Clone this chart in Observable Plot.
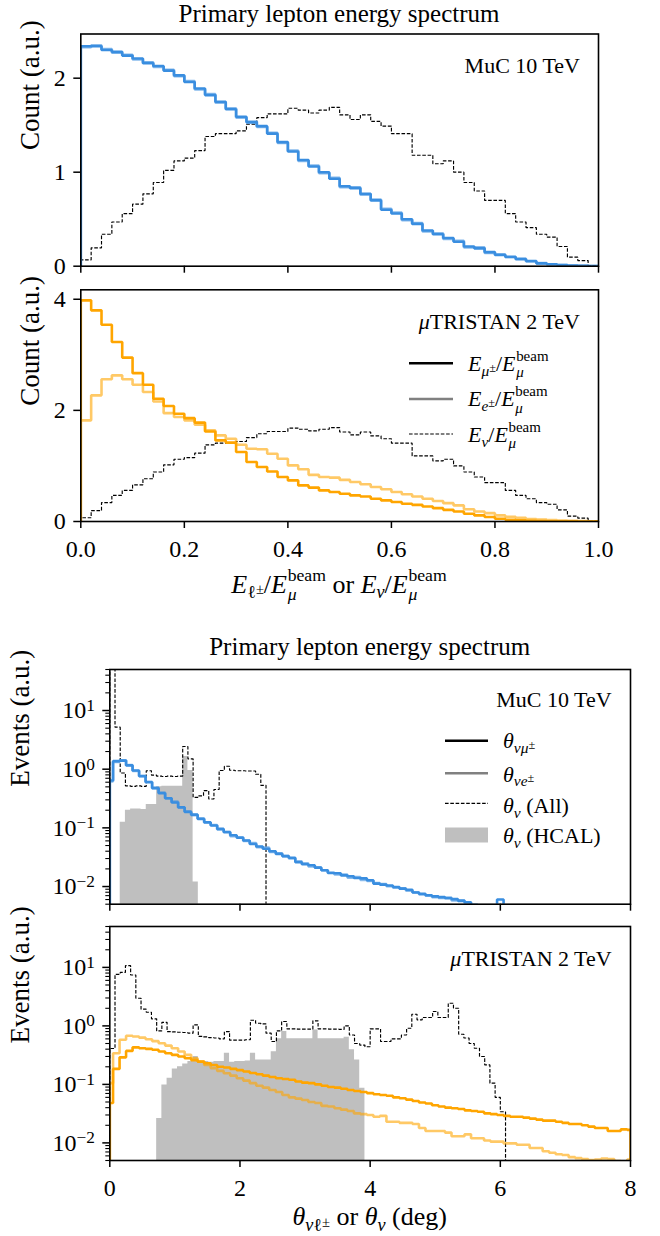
<!DOCTYPE html>
<html><head><meta charset="utf-8">
<script src="https://cdn.jsdelivr.net/npm/d3@7"></script>
<script src="https://cdn.jsdelivr.net/npm/@observablehq/plot@0.6"></script>
<style>
html,body{margin:0;padding:0;background:#fff;}
#root{position:relative;width:660px;height:1236px;overflow:hidden;font-family:"Liberation Serif","Times New Roman",serif;color:#000;background:#fff;}
.abs{position:absolute;left:0;top:0;white-space:nowrap;line-height:1.15;}
.ss{display:inline-block;vertical-align:-0.43em;font-size:0.68em;line-height:1.08;text-align:left;margin-left:0.04em;}
.ss>span{display:block;}
.sb{font-size:0.7em;vertical-align:-0.32em;}
.pm{font-size:0.8em;vertical-align:0.3em;font-style:normal;}
.bl{display:inline-block;width:0;height:0;vertical-align:baseline;}
</style></head>
<body><div id="root"></div>
<script>
// ------------------------------------------------------------------ data
// Energy spectra: 50 bins over E/E_beam in [0, 1]
const mucE_mu = [2.34,2.34,2.30,2.28,2.24,2.21,2.16,2.13,2.08,2.03,1.96,1.89,1.82,1.75,1.67,1.59,1.53,1.49,1.41,1.32,1.22,1.13,1.06,1.00,0.93,0.85,0.83,0.77,0.70,0.60,0.56,0.50,0.45,0.38,0.34,0.30,0.26,0.21,0.19,0.15,0.12,0.10,0.075,0.055,0.03,0.02,0.011,0.006,0.003,0.001];
const mucE_e  = [2.33,2.35,2.31,2.27,2.25,2.20,2.17,2.12,2.09,2.02,1.97,1.88,1.83,1.74,1.68,1.58,1.54,1.48,1.42,1.31,1.23,1.12,1.07,0.99,0.94,0.84,0.84,0.76,0.71,0.61,0.57,0.49,0.46,0.37,0.35,0.29,0.27,0.20,0.20,0.14,0.125,0.095,0.08,0.05,0.033,0.018,0.012,0.005,0.003,0.001];
const nuE     = [0.067,0.195,0.34,0.47,0.56,0.66,0.77,0.89,1.02,1.12,1.15,1.23,1.38,1.41,1.41,1.44,1.51,1.58,1.62,1.62,1.68,1.66,1.63,1.66,1.69,1.61,1.56,1.61,1.54,1.49,1.41,1.41,1.18,1.18,1.09,1.12,1.00,0.89,0.80,0.70,0.70,0.56,0.47,0.41,0.34,0.31,0.21,0.096,0.06,0.007];
const mutE_mu = [3.98,3.80,3.54,3.23,2.95,2.67,2.46,2.21,2.08,1.94,1.86,1.78,1.62,1.46,1.42,1.25,1.07,0.98,0.90,0.80,0.74,0.65,0.61,0.56,0.53,0.50,0.47,0.45,0.41,0.38,0.35,0.32,0.30,0.27,0.24,0.21,0.18,0.14,0.11,0.08,0.05,0.03,0.02,0.012,0.008,0.005,0.003,0.002,0.001,0.0005];
const mutE_e  = [1.82,2.27,2.56,2.63,2.56,2.46,2.33,2.16,1.95,1.88,1.82,1.74,1.64,1.55,1.49,1.38,1.31,1.30,1.22,1.13,1.01,0.94,0.84,0.80,0.79,0.75,0.71,0.67,0.62,0.58,0.53,0.49,0.45,0.41,0.37,0.33,0.29,0.22,0.18,0.15,0.11,0.085,0.065,0.045,0.035,0.026,0.018,0.012,0.006,0.002];

// Angular spectra, charged leptons: 0.1 deg bins centred on multiples of 0.1 deg
const mucA_mu = [0.64,1.37,1.40,1.16,0.95,0.76,0.60,0.48,0.39,0.32,0.27,0.225,0.187,0.168,0.142,0.125,0.11,0.096,0.084,0.075,0.068,0.061,0.053,0.048,0.044,0.040,0.036,0.033,0.031,0.026,0.024,0.023,0.021,0.019,0.017,0.0168,0.0155,0.015,0.014,0.0138,0.0128,0.0112,0.0108,0.0104,0.0098,0.0092,0.0088,0.0079,0.0075,0.0071,0.0068,0.0066,0.0063,0.0061,0.0057,0.0054,0.0049,0.0045,0.0041,0.0036,0.006];
const mucA_e  = [0.62,1.33,1.42,1.18,0.93,0.77,0.61,0.47,0.40,0.32,0.28,0.22,0.19,0.165,0.145,0.122,0.112,0.094,0.086,0.072,0.069,0.060,0.055,0.047,0.046,0.039,0.037,0.033,0.030,0.027,0.025,0.022,0.021,0.019,0.0172,0.016,0.016,0.0142,0.0145,0.013,0.0125,0.0115,0.011,0.0101,0.0096,0.0093,0.0085,0.008,0.0074,0.0070,0.0066,0.0064,0.0065,0.0058,0.0058,0.0052,0.0047,0.0043];
const mutA_mu = [0.048,0.184,0.29,0.374,0.43,0.415,0.405,0.39,0.365,0.34,0.32,0.30,0.28,0.26,0.245,0.23,0.215,0.20,0.194,0.184,0.175,0.166,0.157,0.149,0.141,0.134,0.127,0.124,0.12,0.112,0.107,0.105,0.1,0.095,0.09,0.088,0.084,0.08,0.077,0.074,0.071,0.068,0.066,0.064,0.06,0.058,0.055,0.052,0.049,0.047,0.044,0.042,0.04,0.039,0.038,0.036,0.035,0.034,0.032,0.031,0.030,0.029,0.028,0.028,0.027,0.026,0.025,0.024,0.024,0.023,0.022,0.021,0.021,0.020,0.019,0.018,0.018,0.016,0.016,0.017,0.0167];
const mutA_e  = [0.105,0.34,0.58,0.68,0.66,0.63,0.59,0.55,0.505,0.46,0.415,0.365,0.32,0.28,0.245,0.215,0.19,0.17,0.155,0.141,0.127,0.116,0.105,0.095,0.088,0.08,0.074,0.066,0.06,0.057,0.054,0.05,0.048,0.043,0.042,0.039,0.037,0.035,0.032,0.031,0.030,0.028,0.029,0.023,0.023,0.022,0.022,0.021,0.018,0.016,0.016,0.016,0.015,0.013,0.013,0.014,0.012,0.012,0.011,0.0105,0.0105,0.0098,0.0098,0.0093,0.0093,0.0082,0.0082,0.0072,0.0068,0.0064,0.0062,0.0057,0.0055,0.0053,0.0051,0.0052,0.0054,0.0053,0.0049,0.0048,0.0052];

// Angular spectra, neutrinos: 0.08 deg bins from 0
const mucA_nu   = [300,5.2,0.86,0.52,0.51,0.52,0.51,0.94,0.79,0.76,0.75,0.76,0.75,0.76,2.44,1.5,0.33,0.35,0.43,0.31,0.45,0.95,1.12,0.96,0.94,0.94,0.93,0.93,0.82,0.53];
const mucA_hcal = [0,0,0.125,0.20,0.21,0.21,0.205,0.25,0.25,0.50,0.51,0.51,0.51,0.51,1.65,0.95,0.012];
const mutA_nu   = [0.41,7.6,8.2,10.7,7.4,2.97,1.93,1.71,1.32,0.82,1.15,0.80,0.79,0.78,0.77,0.75,1.04,0.66,0.65,0.63,0.62,0.60,0.80,0.57,0.57,0.57,0.58,1.25,1.11,1.08,0.75,0.54,0.82,1.19,0.89,0.89,0.88,0.88,0.88,1.22,0.89,0.89,0.88,0.88,0.87,1.0,0.70,0.50,0.47,0.44,0.89,0.89,0.54,0.54,0.60,0.60,0.70,0.91,1.58,1.27,1.39,1.39,1.76,1.39,1.39,2.44,2.0,0.72,0.62,0.50,0.415,0.30,0.215,0.105,0.06,0.034];
const mutA_hcal = [0,0,0,0,0,0,0,0,0,0.026,0.098,0.127,0.184,0.20,0.224,0.245,0.30,0.245,0.245,0.24,0.245,0.245,0.34,0.24,0.245,0.245,0.25,0.34,0.26,0.26,0.26,0.36,0.60,0.80,0.60,0.60,0.60,0.60,0.60,0.85,0.60,0.60,0.60,0.60,0.60,0.64,0.39,0.26,0.086];

const energyTicks = [0, 0.2, 0.4, 0.6, 0.8, 1.0];
const angleTicks = [0, 2, 4, 6, 8];
const logMajor = [0.01, 0.1, 1, 10];

// ------------------------------------------------------------------ styling
const BLUE = "#3a8ee0", ORANGE = "#ffa500", HCAL = "#bfbfbf", LEGGRAY = "#808080";
const FONT = "'Liberation Serif','Times New Roman',serif";
const root = document.getElementById("root");

function steps(edges, vals, base) {
  const n = vals.length;
  const v = vals.map(d => d > 0 ? d : base);
  const pts = [{x: edges[0], y: base, b: base}];
  for (let i = 0; i < n; i++) pts.push({x: edges[i], y: v[i], b: base});
  pts.push({x: edges[n], y: v[n - 1], b: base});
  pts.push({x: edges[n], y: base, b: base});
  return pts;
}
const lineOpts = {x: "x", y: "y", curve: "step-after", clip: true, strokeLinejoin: "miter", strokeLinecap: "butt"};
const lepEdgesFor = n => d3.range(n + 1).map(k => Math.min(8, Math.max(0, k * 0.1 - 0.05)));

function place(el, top) {
  el.style.position = "absolute"; el.style.left = "0px"; el.style.top = top + "px";
  root.appendChild(el);
}

function energyPanel({mu, e, color, yMax, yTicks, showX, top, height, mt, mb}) {
  const edges = d3.range(mu.length + 1).map(i => i / mu.length);
  const svg = Plot.plot({
    width: 660, height, marginTop: mt, marginBottom: mb, marginLeft: 80.3, marginRight: 62,
    style: {fontFamily: FONT, background: "transparent", overflow: "visible", color: "black"},
    x: {domain: [0, 1]}, y: {domain: [0, yMax]},
    marks: [
      Plot.line(steps(edges, nuE, 0), {...lineOpts, stroke: "black", strokeWidth: 1.15, strokeDasharray: "3.6,1.7"}),
      Plot.line(steps(edges, mu, 0), {...lineOpts, stroke: color, strokeWidth: 2.6}),
      Plot.line(steps(edges, e, 0), {...lineOpts, stroke: color, strokeOpacity: 0.6, strokeWidth: 2.6}),
      Plot.axisY({ticks: yTicks, tickSize: 7, tickPadding: 8, fontSize: 24, label: null, strokeWidth: 1.5, tickFormat: d3.format("d")}),
      Plot.axisX({ticks: energyTicks, tickSize: 7, tickPadding: 11, fontSize: 24, label: null, strokeWidth: 1.5,
                  tickFormat: showX ? d3.format(".1f") : () => ""}),
      Plot.text(["Count (a.u.)"], {text: d => d, frameAnchor: "left", dx: -50, rotate: -90, fontSize: 27}),
      Plot.frame({stroke: "black", strokeWidth: 1.6})
    ]
  });
  place(svg, top);
}

function anglePanel({mu, e, nu, hcal, color, showX, top, height, mt, mb}) {
  const nuEdges = d3.range(101).map(k => k * 0.08);
  const base = 1e-4;
  const minor = [];
  for (const d of [0.001, 0.01, 0.1, 1, 10]) for (let m = 2; m <= 9; m++) {
    const v = +(m * d).toPrecision(3); if (v >= 0.005 && v <= 50) minor.push(v);
  }
  const svg = Plot.plot({
    width: 660, height, marginTop: mt, marginBottom: mb, marginLeft: 109.3, marginRight: 30,
    style: {fontFamily: FONT, background: "transparent", overflow: "visible", color: "black"},
    x: {domain: [0, 8]}, y: {type: "log", domain: [0.005, 50]},
    marks: [
      Plot.area(steps(nuEdges, hcal, base), {x1: "x", y1: "b", y2: "y", curve: "step-after", fill: HCAL, clip: true}),
      Plot.line(steps(nuEdges, nu, base), {...lineOpts, stroke: "black", strokeWidth: 1.15, strokeDasharray: "3.6,1.7"}),
      Plot.line(steps(lepEdgesFor(mu.length), mu, base), {...lineOpts, stroke: color, strokeWidth: 2.6}),
      Plot.line(steps(lepEdgesFor(e.length), e, base), {...lineOpts, stroke: color, strokeOpacity: 0.6, strokeWidth: 2.6}),
      Plot.axisY({ticks: minor, tickSize: 4, tickFormat: () => "", label: null, strokeWidth: 1.1}),
      Plot.axisY({ticks: logMajor, tickSize: 7, tickPadding: 8, fontSize: 24, label: null, strokeWidth: 1.5,
                  tickFormat: d => "10^" + String(Math.round(Math.log10(d))).replace("-", "\u2212")}),
      Plot.axisX({ticks: angleTicks, tickSize: 7, tickPadding: 11, fontSize: 24, label: null, strokeWidth: 1.5,
                  tickFormat: showX ? d3.format("d") : () => ""}),
      Plot.text(["Events (a.u.)"], {text: d => d, frameAnchor: "left", dx: -89, rotate: -90, fontSize: 27}),
      Plot.frame({stroke: "black", strokeWidth: 1.6})
    ]
  });
  // render 10^k tick labels with real superscripts
  svg.querySelectorAll("text").forEach(t => {
    const s = t.textContent;
    if (/^10\^/.test(s)) {
      const [b, ex] = s.split("^");
      t.textContent = b;
      const ts = document.createElementNS("http://www.w3.org/2000/svg", "tspan");
      ts.setAttribute("dy", "-0.42em");
      ts.setAttribute("font-size", "0.72em");
      ts.textContent = ex;
      t.appendChild(ts);
    }
  });
  place(svg, top);
}

energyPanel({mu: mucE_mu, e: mucE_e, color: BLUE, yMax: 2.47, yTicks: [0, 1, 2], showX: false, top: 0, height: 280, mt: 33.5, mb: 14.3});
energyPanel({mu: mutE_mu, e: mutE_e, color: ORANGE, yMax: 4.17, yTicks: [0, 2, 4], showX: true, top: 280, height: 320, mt: 9.3, mb: 79});
anglePanel({mu: mucA_mu, e: mucA_e, nu: mucA_nu, hcal: mucA_hcal, color: BLUE, showX: false, top: 640, height: 275, mt: 29, mb: 11.3});
anglePanel({mu: mutA_mu, e: mutA_e, nu: mutA_nu, hcal: mutA_hcal, color: ORANGE, showX: true, top: 915, height: 290, mt: 11, mb: 45});

// ------------------------------------------------------------------ legend samples
const ns = "http://www.w3.org/2000/svg";
const ov = document.createElementNS(ns, "svg");
ov.setAttribute("width", 660); ov.setAttribute("height", 1236);
ov.style.position = "absolute"; ov.style.left = "0px"; ov.style.top = "0px";
function seg(x1, x2, y, stroke, w, dash) {
  const l = document.createElementNS(ns, "line");
  l.setAttribute("x1", x1); l.setAttribute("x2", x2); l.setAttribute("y1", y); l.setAttribute("y2", y);
  l.setAttribute("stroke", stroke); l.setAttribute("stroke-width", w);
  if (dash) l.setAttribute("stroke-dasharray", dash);
  ov.appendChild(l);
}
seg(409, 453, 363.3, "black", 2.6);
seg(409, 453, 399, LEGGRAY, 2.6);
seg(409, 453, 434, "black", 1.15, "3.6,1.7");
seg(445, 488, 740.7, "black", 2.6);
seg(445, 488, 773.3, LEGGRAY, 2.6);
seg(445, 488, 803.3, "black", 1.15, "3.6,1.7");
const rc = document.createElementNS(ns, "rect");
rc.setAttribute("x", 445); rc.setAttribute("y", 827.5); rc.setAttribute("width", 43); rc.setAttribute("height", 15);
rc.setAttribute("fill", HCAL); ov.appendChild(rc);
root.appendChild(ov);

// ------------------------------------------------------------------ text
function label(html, x, y, size, anchor) {
  const d = document.createElement("div");
  d.className = "abs"; d.style.fontSize = size + "px";
  d.innerHTML = html + '<span class="bl"></span>';
  root.appendChild(d);
  const r = d.getBoundingClientRect();
  const b = d.querySelector(".bl").getBoundingClientRect();
  const base = b.bottom - r.top;
  const w = r.width;
  const left = anchor === "middle" ? x - w / 2 : anchor === "end" ? x - w : x;
  d.style.left = left + "px"; d.style.top = (y - base) + "px";
}
const beam = '<span class="ss"><span>beam</span><span><i>μ</i></span></span>';
label("Primary lepton energy spectrum", 339, 21.5, 25, "middle");
label("MuC 10 TeV", 580, 72.7, 22, "end");
label("<i>μ</i>TRISTAN 2 TeV", 580, 329.3, 22, "end");
label('<i>E</i><span class="sb"><i>μ</i><span class="pm">±</span></span>/<i>E</i>' + beam, 468, 370.7, 22, "start");
label('<i>E</i><span class="sb"><i>e</i><span class="pm">±</span></span>/<i>E</i>' + beam, 468, 406.2, 22, "start");
label('<i>E</i><span class="sb"><i>ν</i></span>/<i>E</i>' + beam, 468, 441.7, 22, "start");
label('<i>E</i><span class="sb">ℓ<span class="pm">±</span></span>/<i>E</i>' + beam + ' or <i>E</i><span class="sb"><i>ν</i></span>/<i>E</i>' + beam, 339, 592, 26, "middle");

label("Primary lepton energy spectrum", 369.7, 655, 25, "middle");
label("MuC 10 TeV", 611.7, 707.3, 22, "end");
label('<i>θ</i><span class="sb"><i>νμ</i><span class="pm">±</span></span>', 503, 748.3, 22, "start");
label('<i>θ</i><span class="sb"><i>νe</i><span class="pm">±</span></span>', 503, 781.5, 22, "start");
label('<i>θ</i><span class="sb"><i>ν</i></span> (All)', 503, 813.3, 22, "start");
label('<i>θ</i><span class="sb"><i>ν</i></span> (HCAL)', 503, 843.3, 22, "start");
label("<i>μ</i>TRISTAN 2 TeV", 611.7, 966, 22, "end");
label('<i>θ</i><span class="sb"><i>ν</i>ℓ<span class="pm">±</span></span> or <i>θ</i><span class="sb"><i>ν</i></span> (deg)', 369.7, 1225, 26, "middle");
</script>
</body></html>
